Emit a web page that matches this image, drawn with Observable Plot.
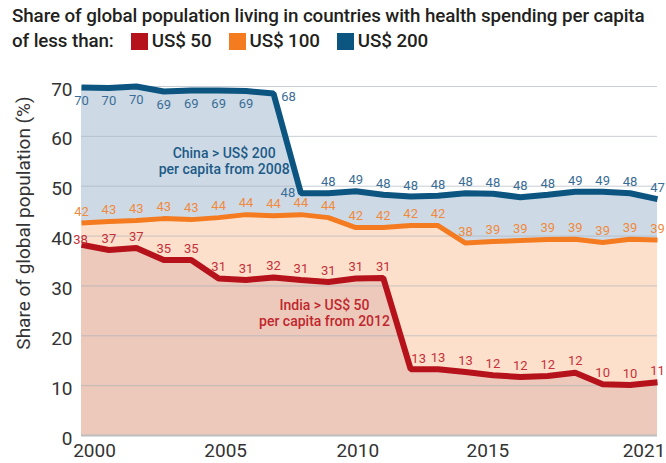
<!DOCTYPE html>
<html>
<head>
<meta charset="utf-8">
<script src="https://cdn.jsdelivr.net/npm/d3@7"></script>
<script src="https://cdn.jsdelivr.net/npm/@observablehq/plot@0.6"></script>
<style>
  body { margin: 0; background: #fff; font-family: Roboto, "Noto Sans", sans-serif; }
  #title { height: 60px; box-sizing: border-box; padding: 4px 0 0 12px; color: #231f20;
           font-size: 18.8px; font-weight: 500; line-height: 25px; white-space: nowrap; letter-spacing: -0.1px; }
  .sw { display: inline-block; width: 17px; height: 17px; vertical-align: -3px; margin: 0 4px 0 17px; }
  #chart svg { display: block; }
</style>
</head>
<body>
<div id="title">
  <div>Share of global population living in countries with health spending per capita</div>
  <div>of less than:<span class="sw" style="background:#b5121b"></span>US$ 50<span class="sw" style="background:#f47b20"></span>US$ 100<span class="sw" style="background:#0b5580"></span>US$ 200</div>
</div>
<div id="chart"></div>
<script>
const years = [2000,2001,2002,2003,2004,2005,2006,2007,2008,2009,2010,2011,2012,2013,2014,2015,2016,2017,2018,2019,2020,2021];
const under200 = [69.8,69.7,70.0,69.0,69.2,69.2,69.1,68.6,48.6,48.6,49.0,48.3,47.95,48.1,48.6,48.5,47.8,48.3,48.9,48.9,48.6,47.4];
const under100 = [42.6,42.9,43.1,43.5,43.3,43.7,44.3,44.1,44.3,43.7,41.7,41.7,42.1,42.1,38.6,38.9,39.1,39.3,39.35,38.7,39.35,39.2];
const under50  = [38.25,37.2,37.6,35.2,35.2,31.5,31.2,31.7,31.2,30.8,31.5,31.6,13.3,13.3,12.75,12.1,11.75,11.95,12.6,10.3,10.15,10.7];
const labels200 = [70,70,70,69,69,69,69,68,48,48,49,48,48,48,48,48,48,48,49,49,48,47];
const labels100 = [42,43,43,43,43,44,44,44,44,44,42,42,42,42,38,39,39,39,39,39,39,39];
const labels50  = [38,37,37,35,35,31,31,32,31,31,31,31,13,13,13,12,12,12,12,10,10,11];
const yTicks = [0,10,20,30,40,50,60,70];
const xTicks = [2000,2005,2010,2015,2021];
const yLabel = "Share of global population (%)";
const annotations = [
  {text: "China > US$ 200\nper capita from 2008", year: 2005.2, value: 55.1, color: "#1d5a87"},
  {text: "India > US$ 50\nper capita from 2012", year: 2008.86, value: 24.6, color: "#c0272d"}
];

const rows = years.map((year, i) => ({
  year, v200: under200[i], v100: under100[i], v50: under50[i],
  l200: labels200[i], l100: labels100[i], l50: labels50[i]
}));

const C = {
  blue: "#0b5580", orange: "#f47b20", red: "#b5121b",
  blueFill: "#cddae6", orangeFill: "#fde0cb", redFill: "#edc9bc",
  blueText: "#3a6d95", orangeText: "#f08a3e", redText: "#c5303a"
};
const lab = (data, y, text, fill, dx, dy) =>
  Plot.text(data, {x: "year", y, text, fill, dx, dy, fontSize: 13, fontFamily: "Roboto"});

const xShift = {2000: 13, 2005: 7, 2010: 2, 2015: -5, 2021: -13.5};

const chart = Plot.plot({
  width: 666, height: 403,
  marginTop: 26, marginBottom: 28, marginLeft: 81, marginRight: 9,
  style: {fontFamily: "Roboto", color: "#333", background: "transparent", overflow: "visible"},
  x: {domain: [2000, 2021]},
  y: {domain: [0, 70]},
  marks: [
    Plot.areaY(rows, {x: "year", y: "v200", fill: C.blueFill}),
    Plot.areaY(rows, {x: "year", y: "v100", fill: C.orangeFill}),
    Plot.areaY(rows, {x: "year", y: "v50", fill: C.redFill}),
    Plot.ruleY(yTicks.filter(d => d > 0), {stroke: "#a3adb8", strokeOpacity: 0.6, strokeWidth: 1}),
    Plot.ruleY([0], {stroke: "#bdbdbd", strokeWidth: 2}),
    Plot.line(rows, {x: "year", y: "v200", stroke: C.blue, strokeWidth: 6, strokeLinejoin: "miter", strokeLinecap: "butt"}),
    Plot.line(rows, {x: "year", y: "v100", stroke: C.orange, strokeWidth: 5, strokeLinejoin: "miter", strokeLinecap: "butt"}),
    Plot.line(rows, {x: "year", y: "v50", stroke: C.red, strokeWidth: 6, strokeLinejoin: "miter", strokeLinecap: "butt"}),
    // US$ 200 labels
    lab(rows.filter(d => d.year <= 2006), "v200", "l200", C.blueText, 0, 13),
    lab(rows.filter(d => d.year === 2007), "v200", "l200", C.blueText, 15, 3),
    lab(rows.filter(d => d.year === 2008), "v200", "l200", C.blueText, -13, 0),
    lab(rows.filter(d => d.year >= 2009), "v200", "l200", C.blueText, 0, -11),
    // US$ 100 labels
    lab(rows, "v100", "l100", C.orangeText, 0, -11.5),
    // US$ 50 labels
    lab(rows.filter(d => d.year === 2000), "v50", "l50", C.redText, -1, -5),
    lab(rows.filter(d => d.year > 2000 && d.year !== 2012), "v50", "l50", C.redText, 0, -11.5),
    lab(rows.filter(d => d.year === 2012), "v50", "l50", C.redText, 8, -10),
    // annotations
    Plot.text(annotations, {x: "year", y: "value", text: "text", fill: "color", fontSize: 14, fontWeight: 500, lineHeight: 1.15}),
    // axes
    Plot.axisY(yTicks, {tickSize: 0, tickPadding: 9, fontSize: 19, dy: 3, label: null}),
    ...xTicks.map(t => Plot.axisX([t], {tickSize: 0, tickPadding: 8, fontSize: 19, dx: xShift[t], label: null, tickFormat: d => String(d)})),
    Plot.text([yLabel], {frameAnchor: "left", textAnchor: "middle", rotate: -90, dx: -58, dy: -38, fontSize: 19, fill: "#333"})
  ]
});
document.getElementById("chart").appendChild(chart);
</script>
</body>
</html>
